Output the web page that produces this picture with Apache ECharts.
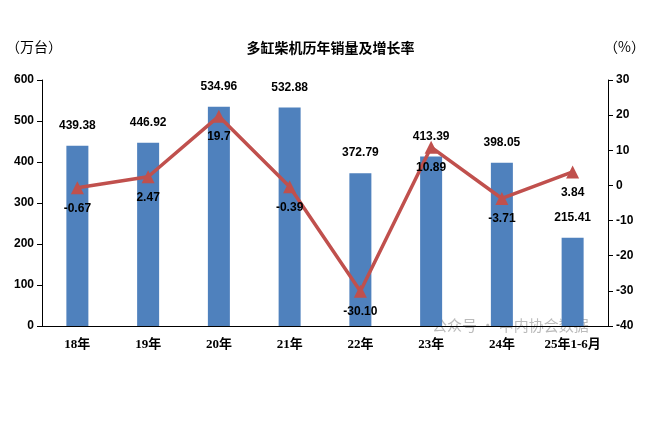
<!DOCTYPE html>
<html><head><meta charset="utf-8">
<script src="https://cdn.jsdelivr.net/npm/echarts@6/dist/echarts.min.js"></script>
<style>html,body{margin:0;background:#fff}#c{width:661px;height:431px}</style>
</head><body><div id="c"></div>
<script>
const categories=['18年','19年','20年','21年','22年','23年','24年','25年1-6月'];
const sales=[439.38,446.92,534.96,532.88,372.79,413.39,398.05,215.41];
const growth=[-0.67,2.47,19.7,-0.39,-30.10,10.89,-3.71,3.84];
const growthLabels=['-0.67','2.47','19.7','-0.39','-30.10','10.89','-3.71','3.84'];
const chart=echarts.init(document.getElementById('c'));
const font='"Liberation Sans", "Noto Sans CJK SC", sans-serif';
const serif='"Liberation Serif", "Noto Sans CJK SC", serif';
chart.setOption({
  animation:false,
  textStyle:{fontFamily:font},
  title:{text:'多缸柴机历年销量及增长率',left:'center',top:36,textStyle:{fontSize:14,fontWeight:'bold',color:'#000',fontFamily:'"Noto Sans CJK SC"'}},
  graphic:[
    {type:'text',left:6,top:40,style:{text:'（万台）',fontSize:14,fill:'#000',fontFamily:'"Noto Sans CJK SC"'}},
    {type:'text',left:604,top:40,style:{text:'（%）',fontSize:14,fill:'#000',fontFamily:'"Noto Sans CJK SC"'}},
    {type:'text',left:432,top:318,style:{text:'公众号 · 中内协会数据',fontSize:15,fill:'rgba(120,120,120,0.5)',fontFamily:'"Noto Sans CJK SC"'}}
  ],
  grid:{left:42,right:53,top:80,bottom:105},
  xAxis:{type:'category',data:categories,axisTick:{show:false},
    axisLine:{lineStyle:{color:'#000'}},
    axisLabel:{interval:0,color:'#000',fontWeight:'bold',fontSize:13,margin:12,fontFamily:serif}},
  yAxis:[
    {type:'value',min:0,max:600,interval:100,splitLine:{show:false},axisLine:{show:true,lineStyle:{color:'#000'}},axisTick:{show:true},axisLabel:{color:'#000',fontWeight:'bold',fontSize:12}},
    {type:'value',min:-40,max:30,interval:10,splitLine:{show:false},axisLine:{show:true,lineStyle:{color:'#000'}},axisTick:{show:true},axisLabel:{color:'#000',fontWeight:'bold',fontSize:12}}
  ],
  series:[
    {type:'bar',data:sales,barWidth:22,itemStyle:{color:'#4f81bd'},
      label:{show:true,position:'top',distance:14,color:'#000',fontWeight:'bold',fontSize:12,formatter:p=>p.value.toFixed(2)}},
    {type:'line',yAxisIndex:1,data:growth,symbol:'triangle',symbolSize:13,
      lineStyle:{color:'#c0504d',width:3.5},itemStyle:{color:'#c0504d'},
      label:{show:true,position:'bottom',distance:8,color:'#000',fontWeight:'bold',fontSize:12,formatter:p=>growthLabels[p.dataIndex]}}
  ]
});
</script></body></html>
